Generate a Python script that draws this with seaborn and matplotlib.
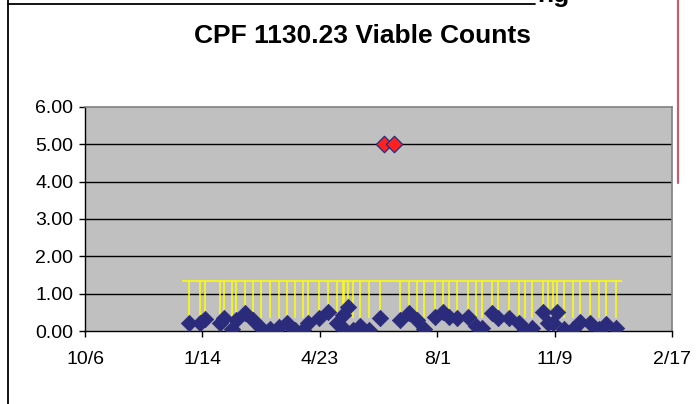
import numpy as np
import pandas as pd
import matplotlib
matplotlib.use("Agg")
import matplotlib.pyplot as plt
from matplotlib.lines import Line2D
import seaborn as sns

# viable counts
count_dates = ["2004-01-03", "2004-01-12", "2004-01-16", "2004-01-29", "2004-02-01",
               "2004-02-08", "2004-02-12", "2004-02-19", "2004-02-26", "2004-03-04",
               "2004-03-12", "2004-03-19", "2004-03-26", "2004-04-02", "2004-04-09",
               "2004-04-13", "2004-04-22", "2004-04-30", "2004-05-08", "2004-05-13",
               "2004-05-14", "2004-05-17", "2004-05-21", "2004-05-27", "2004-06-04",
               "2004-06-13", "2004-06-30", "2004-07-08", "2004-07-15", "2004-07-21",
               "2004-07-30", "2004-08-06", "2004-08-11", "2004-08-18", "2004-08-27",
               "2004-09-03", "2004-09-08", "2004-09-17", "2004-09-22", "2004-10-01",
               "2004-10-10", "2004-10-15", "2004-10-21", "2004-10-30", "2004-11-03",
               "2004-11-08", "2004-11-11", "2004-11-17", "2004-11-25", "2004-12-01",
               "2004-12-09", "2004-12-17", "2004-12-23", "2004-12-31"]
count_values = [0.21, 0.22, 0.32, 0.21, 0.34, 0.05, 0.29, 0.47, 0.29, 0.07,
                0.05, 0.10, 0.22, 0.03, 0.03, 0.21, 0.34, 0.52, 0.21, 0.43,
                0.05, 0.64, 0.03, 0.13, 0.03, 0.34, 0.29, 0.47, 0.29, 0.05,
                0.38, 0.52, 0.38, 0.34, 0.38, 0.13, 0.07, 0.47, 0.34, 0.34,
                0.21, 0.03, 0.07, 0.52, 0.21, 0.21, 0.50, 0.05, 0.05, 0.25,
                0.21, 0.05, 0.19, 0.07]

# excursions
excursion_dates = ["2004-06-17", "2004-06-25"]
excursion_values = [5.0, 5.0]

# alert limit
limit_value = 1.35
limit_low = 0.35
limit_start = "2003-12-28"
limit_end = "2005-01-05"

tick_dates = ["2003-10-06", "2004-01-14", "2004-04-23", "2004-08-01", "2004-11-09", "2005-02-17"]
tick_labels = ["10/6", "1/14", "4/23", "8/1", "11/9", "2/17"]
y_ticks = [0, 1, 2, 3, 4, 5, 6]

counts = pd.DataFrame({"date": pd.to_datetime(count_dates), "cfu": count_values})
excursions = pd.DataFrame({"date": pd.to_datetime(excursion_dates), "cfu": excursion_values})

sns.set_style("white")
plt.rcParams["font.family"] = ["Liberation Sans", "DejaVu Sans"]
plt.rcParams["text.color"] = "black"
plt.rcParams["xtick.color"] = "black"
plt.rcParams["ytick.color"] = "black"

fig = plt.figure(figsize=(7.0, 4.04), dpi=100)
ax = fig.add_axes([85 / 700, 1 - 331 / 404, 587 / 700, 224 / 404])
ax.set_facecolor("#c0c0c0")

navy = "#2b2b7b"

# limit line with drop lines
ax.hlines(limit_value, pd.Timestamp(limit_start), pd.Timestamp(limit_end), color="#ffff00", lw=1.1, zorder=2)
ax.vlines(counts["date"], limit_low, limit_value, color="#ffff00", lw=1.1, zorder=2)

for v in y_ticks[1:-1]:
    ax.axhline(v, color="black", lw=1.0, zorder=1)

sns.scatterplot(data=counts, x="date", y="cfu", marker="D", s=70, color=navy,
                edgecolor=navy, linewidth=0.5, ax=ax, zorder=3, legend=False)
sns.scatterplot(data=excursions, x="date", y="cfu", marker="D", s=70, color="#ff2020",
                edgecolor=navy, linewidth=0.9, ax=ax, zorder=4, legend=False)

ax.set_xlim(pd.Timestamp(tick_dates[0]), pd.Timestamp(tick_dates[-1]))
ax.set_ylim(0, 6)
ax.set_xticks(pd.to_datetime(tick_dates))
ax.set_xticklabels(tick_labels)
ax.set_yticks(y_ticks)
ax.set_yticklabels([f"{v:.2f}" for v in y_ticks])
ax.set_xlabel("")
ax.set_ylabel("")

for side in ["top", "right"]:
    ax.spines[side].set_color("#808080")
    ax.spines[side].set_linewidth(1.2)
for side in ["left", "bottom"]:
    ax.spines[side].set_color("black")
    ax.spines[side].set_linewidth(1.0)

ax.tick_params(axis="x", direction="out", length=4.5, width=1, pad=10, labelsize=14)
ax.tick_params(axis="y", direction="out", length=4.5, width=1, pad=4, labelsize=14)
ax.xaxis.set_tick_params(bottom=True)
ax.yaxis.set_tick_params(left=True)

fig.text(362 / 700, 1 - 36 / 404, "CPF 1130.23 Viable Counts", ha="center", va="center",
         fontsize=19, fontweight="bold")
fig.text(537 / 700, 1 - 2 / 404, "ng", ha="left", va="baseline", fontsize=19, fontweight="bold")

# chart frame remnants
fig.add_artist(Line2D([8 / 700, 8 / 700], [0, 1], color="black", lw=1.3))
fig.add_artist(Line2D([8 / 700, 535 / 700], [1 - 4 / 404, 1 - 4 / 404], color="black", lw=1.3))
fig.add_artist(Line2D([678 / 700, 678 / 700], [1 - 183 / 404, 1], color="#c06070", lw=1.6))

fig.savefig("out.png", dpi=100)
